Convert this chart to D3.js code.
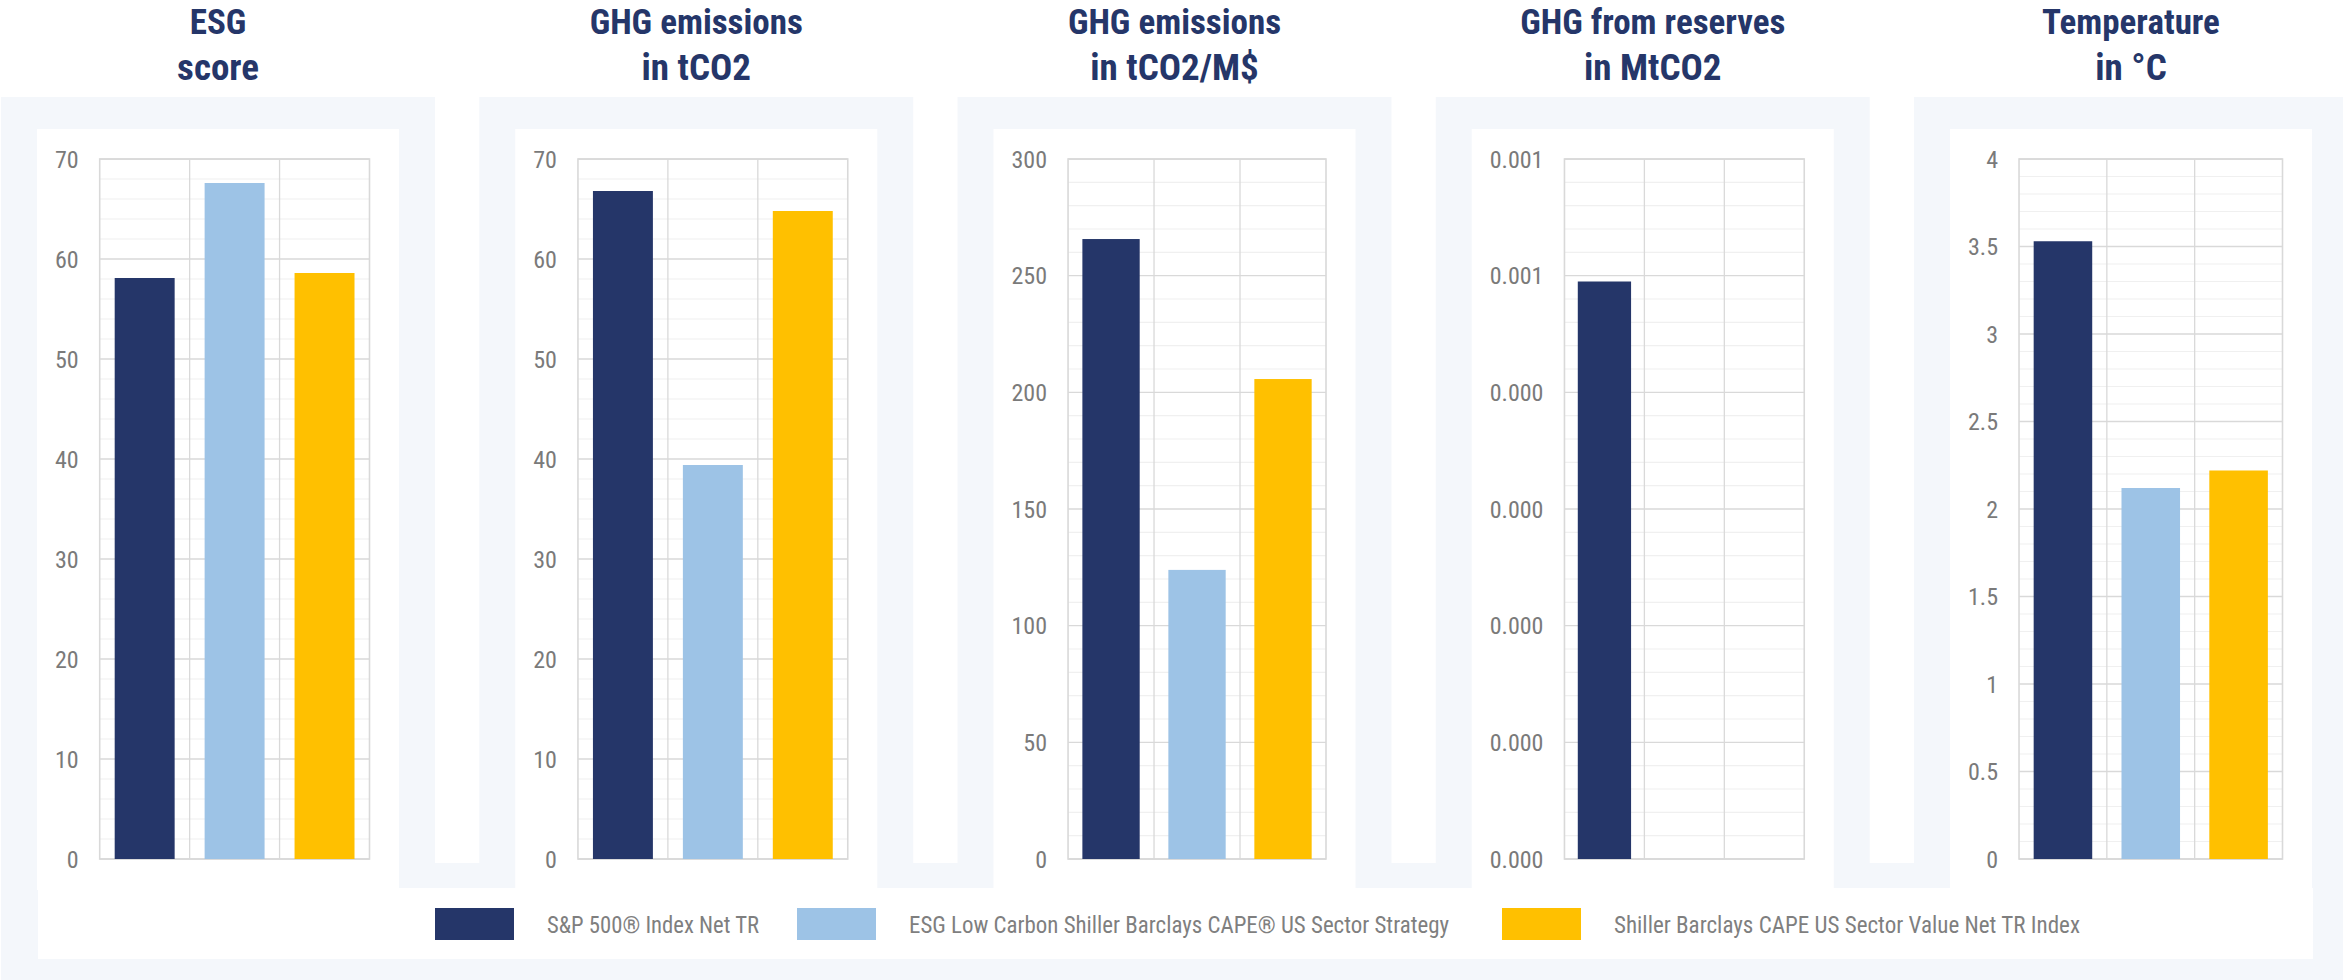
<!DOCTYPE html>
<html>
<head>
<meta charset="utf-8">
<script src="https://cdn.jsdelivr.net/npm/d3@7"></script>
<style>
  html, body { margin: 0; padding: 0; background: #ffffff; }
  svg { display: block; }
</style>
</head>
<body>
<svg id="chart" width="2343" height="980"></svg>
<script>
// ---- Data -------------------------------------------------------------
const panelTitleLine1 = ["ESG", "GHG emissions", "GHG emissions", "GHG from reserves", "Temperature"];
const panelTitleLine2 = ["score", "in tCO2", "in tCO2/M$", "in MtCO2", "in °C"];

const seriesNames = [
  "S&P 500® Index Net TR",
  "ESG Low Carbon Shiller Barclays CAPE® US Sector Strategy",
  "Shiller Barclays CAPE US Sector Value Net TR Index"
];

// One value per panel, in panel order
const sp500Values        = [58.1, 66.8, 265.7, 0.000495, 3.53];
const esgLowCarbonValues = [67.6, 39.4, 123.9, 0, 2.12];
const shillerValueValues = [58.6, 64.8, 205.7, 0, 2.22];

// Value axes
const axisMax     = [70, 70, 300, 0.0006, 4];
const axisStep    = [10, 10, 50, 0.0001, 0.5];
const tickFormats = ["d", "d", "d", ".3f", ".1~f"];

// ---- Layout & style ---------------------------------------------------
const W = 2343, H = 980;
const FONT = '"Liberation Sans Narrow","Arial Narrow","Roboto Condensed","Liberation Sans",Arial,sans-serif';
const seriesColors = ["#253669", "#9dc3e6", "#ffc000"];
const FRAME = "#f4f7fb";
const TITLE_COLOR = "#253669";
const LABEL_COLOR = "#7a7a7a";

const panelStep = 478.25, panelW = 434;
const frameTop = 97, innerTop = 129, innerBottom = 890;
const plotTop = 159, plotBottom = 859;

const svg = d3.select("#chart");
svg.append("rect").attr("width", W).attr("height", H).attr("fill", "#ffffff");

// light frame behind panels and legend
svg.append("rect").attr("x", 1).attr("y", frameTop).attr("width", W - 1).attr("height", H - frameTop).attr("fill", FRAME);

const panelX = i => 1 + i * panelStep;
const seriesValues = [sp500Values, esgLowCarbonValues, shillerValueValues];

// white gutters between panels
for (let i = 0; i < panelTitleLine1.length - 1; i++) {
  svg.append("rect")
    .attr("x", panelX(i) + panelW).attr("y", frameTop)
    .attr("width", panelStep - panelW).attr("height", 863 - frameTop)
    .attr("fill", "#ffffff");
}

// legend box
svg.append("rect").attr("x", 38).attr("y", 888).attr("width", 2275).attr("height", 71).attr("fill", "#ffffff");

panelTitleLine1.forEach((t1, i) => {
  const px = panelX(i);
  const g = svg.append("g");

  // inner white card
  g.append("rect").attr("x", px + 36).attr("y", innerTop)
    .attr("width", 362).attr("height", innerBottom - innerTop).attr("fill", "#ffffff");

  // title
  const cx = px + 217;
  g.append("text").attr("x", cx).attr("y", 34)
    .attr("text-anchor", "middle").attr("font-family", FONT).attr("font-weight", "bold")
    .attr("font-size", 35).attr("fill", TITLE_COLOR).text(t1);
  g.append("text").attr("x", cx).attr("y", 80)
    .attr("text-anchor", "middle").attr("font-family", FONT).attr("font-weight", "bold")
    .attr("font-size", 37).attr("fill", TITLE_COLOR).text(panelTitleLine2[i]);

  // scales
  const y = d3.scaleLinear().domain([0, axisMax[i]]).range([plotBottom, plotTop]);
  const nMajor = Math.round(axisMax[i] / axisStep[i]);
  const majorTicks = d3.range(nMajor + 1).map(k => k * axisStep[i]);
  const minorTicks = d3.range(nMajor * 5 + 1).filter(k => k % 5 !== 0).map(k => k * axisStep[i] / 5);
  const fmt = d3.format(tickFormats[i]);

  // tick labels (measured first so the plot can start after them)
  const labelLeft = px + 54;
  const labels = g.append("g").attr("font-family", FONT).attr("font-size", 24).attr("fill", LABEL_COLOR)
    .selectAll("text").data(majorTicks).join("text")
    .attr("y", d => y(d) + 8.5)
    .attr("text-anchor", "end")
    .text(d => fmt(d));
  let maxW = 0;
  labels.each(function () { maxW = Math.max(maxW, this.getComputedTextLength()); });
  const plotLeft = labelLeft + maxW + 21;
  const plotRight = px + 368.5;
  labels.attr("x", plotLeft - 21);

  const x = d3.scaleBand().domain(d3.range(seriesNames.length))
    .range([plotLeft, plotRight]).paddingInner(1 / 3).paddingOuter(1 / 6);

  // minor grid
  g.append("g").selectAll("line").data(minorTicks).join("line")
    .attr("x1", plotLeft).attr("x2", plotRight)
    .attr("y1", d => y(d)).attr("y2", d => y(d))
    .attr("stroke", "#f0f0f0").attr("stroke-width", 1.2);

  // major grid
  g.append("g").selectAll("line").data(majorTicks).join("line")
    .attr("x1", plotLeft).attr("x2", plotRight)
    .attr("y1", d => y(d)).attr("y2", d => y(d))
    .attr("stroke", "#d9d9d9").attr("stroke-width", 1.3);

  // category separators
  const stepW = (plotRight - plotLeft) / seriesNames.length;
  g.append("g").selectAll("line").data(d3.range(1, seriesNames.length)).join("line")
    .attr("x1", k => plotLeft + k * stepW).attr("x2", k => plotLeft + k * stepW)
    .attr("y1", plotTop).attr("y2", plotBottom)
    .attr("stroke", "#d9d9d9").attr("stroke-width", 1.3);

  // plot border
  g.append("rect").attr("x", plotLeft).attr("y", plotTop)
    .attr("width", plotRight - plotLeft).attr("height", plotBottom - plotTop)
    .attr("fill", "none").attr("stroke", "#d9d9d9").attr("stroke-width", 1.6);

  // bars
  g.append("g").selectAll("rect").data(seriesValues.map((s, k) => ({ k, v: s[i] }))).join("rect")
    .attr("x", d => x(d.k))
    .attr("width", x.bandwidth())
    .attr("y", d => y(d.v))
    .attr("height", d => plotBottom - y(d.v))
    .attr("fill", d => seriesColors[d.k]);
});

// legend
const legendX = [435, 797, 1502];
const legendTextW = [212, 540, 466];
const legend = svg.append("g").selectAll("g").data(seriesNames).join("g")
  .attr("transform", (d, k) => `translate(${legendX[k]},908)`);
legend.append("rect").attr("width", 79).attr("height", 32).attr("fill", (d, k) => seriesColors[k]);
legend.append("text").attr("x", 112).attr("y", 25)
  .attr("font-family", FONT).attr("font-size", 24).attr("fill", "#7f7f7f")
  .attr("textLength", (d, k) => legendTextW[k]).attr("lengthAdjust", "spacingAndGlyphs")
  .text(d => d);
</script>
</body>
</html>
